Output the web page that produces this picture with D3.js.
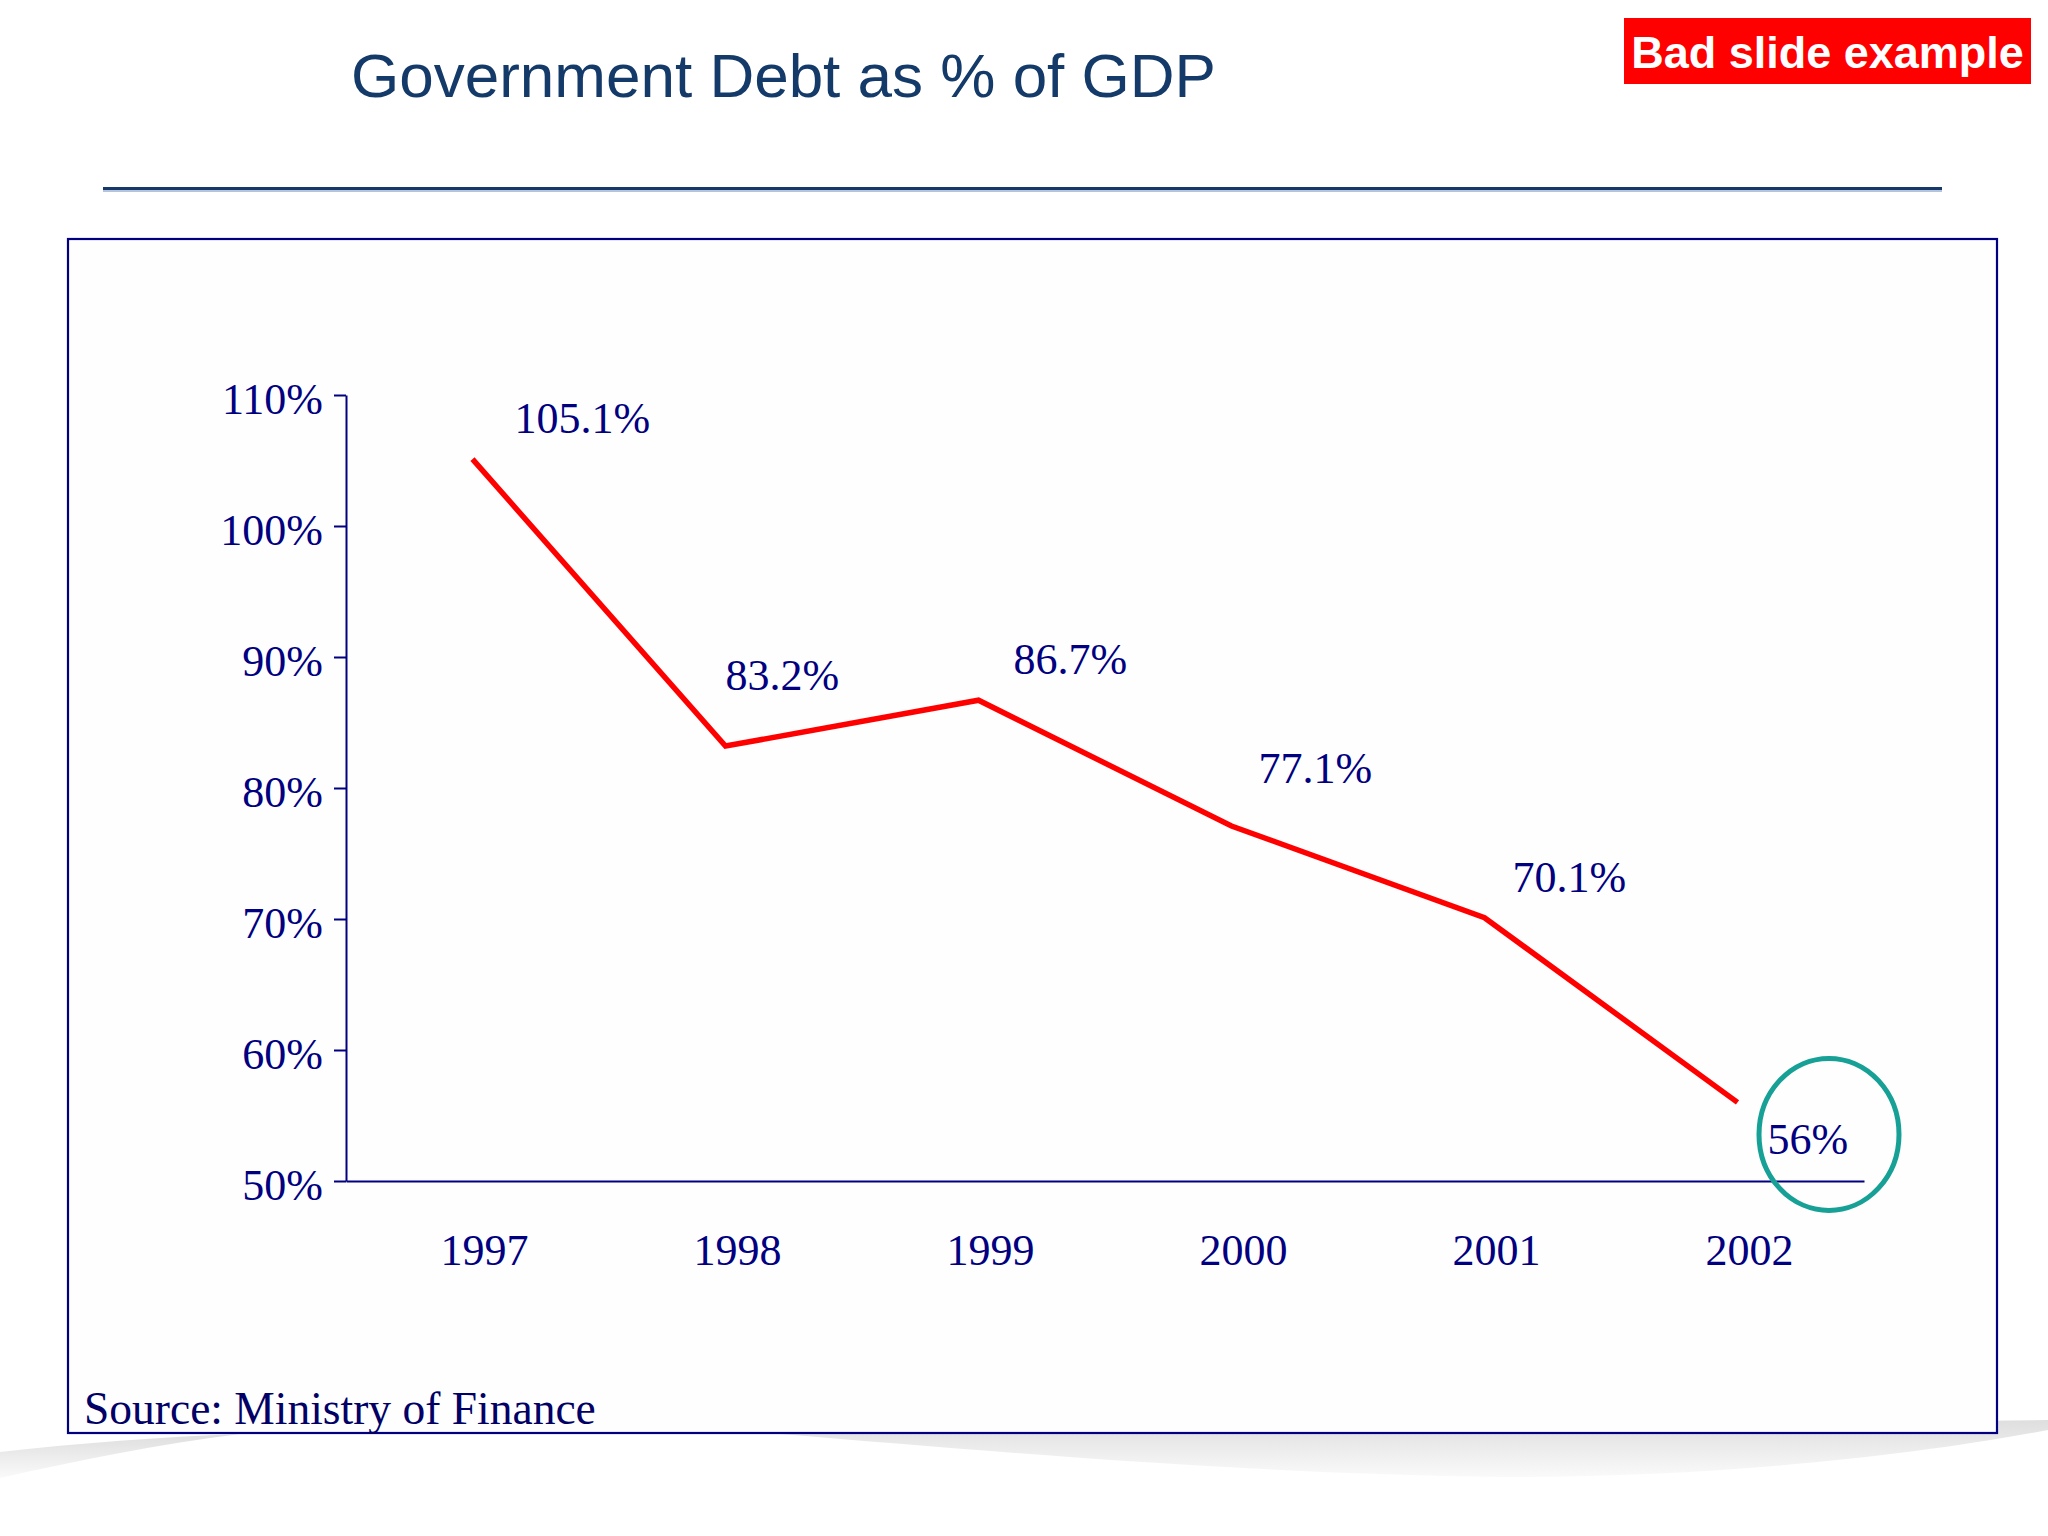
<!DOCTYPE html>
<html>
<head>
<meta charset="utf-8">
<script src="https://cdn.jsdelivr.net/npm/d3@7"></script>
<style>
  html, body { margin: 0; padding: 0; background: #ffffff; }
  svg { display: block; }
</style>
</head>
<body>
<script>
// ---- data ----
const years = ["1997", "1998", "1999", "2000", "2001", "2002"];
const debtPct = [105.1, 83.2, 86.7, 77.1, 70.1, 56];
const yTicks = [50, 60, 70, 80, 90, 100, 110];
const titleText = "Government Debt as % of GDP";
const badgeText = "Bad slide example";
const sourceText = "Source: Ministry of Finance";

// ---- layout (label nudges, in px, relative to each point) ----
const labelNudge = [[42, -26], [0, -56], [35, -26], [27, -43], [28, -26], [30, 52]];
const W = 2048, H = 1536;
const navy = "#000080";
const serif = "'Liberation Serif', 'Times New Roman', serif";
const sans = "'Liberation Sans', Arial, sans-serif";

const svg = d3.select("body").append("svg").attr("width", W).attr("height", H);

// gradient for bottom swoosh
const defs = svg.append("defs");
const g1 = defs.append("linearGradient").attr("id", "sw").attr("x1", 0).attr("y1", 0).attr("x2", 0).attr("y2", 1);
g1.append("stop").attr("offset", "0%").attr("stop-color", "#dedede");
g1.append("stop").attr("offset", "100%").attr("stop-color", "#fafafa");

// bottom decorative swoosh
svg.append("path")
  .attr("d", "M0,1452 C80,1443 160,1437 240,1434 C160,1444 80,1460 0,1478 Z")
  .attr("fill", "url(#sw)");
svg.append("path")
  .attr("d", "M780,1434 L2048,1420 L2048,1430 C1900,1458 1700,1478 1500,1477 C1250,1474 1000,1452 780,1434 Z")
  .attr("fill", "url(#sw)");

// title
svg.append("text")
  .attr("x", 351).attr("y", 97)
  .attr("font-family", sans).attr("font-size", 62)
  .attr("fill", "#133a68")
  .text(titleText);

// red badge
svg.append("rect").attr("x", 1624).attr("y", 18).attr("width", 407).attr("height", 66).attr("fill", "#ff0000");
svg.append("text")
  .attr("x", 1827.5).attr("y", 67.5)
  .attr("text-anchor", "middle")
  .attr("font-family", sans).attr("font-size", 45).attr("font-weight", "bold")
  .attr("fill", "#ffffff")
  .text(badgeText);

// title rule
svg.append("line").attr("x1", 103).attr("x2", 1942).attr("y1", 191).attr("y2", 191)
  .attr("stroke", "#b3c4dc").attr("stroke-width", 2);
svg.append("line").attr("x1", 103).attr("x2", 1942).attr("y1", 188.5).attr("y2", 188.5)
  .attr("stroke", "#17396a").attr("stroke-width", 3);

// frame
svg.append("rect").attr("x", 68).attr("y", 239).attr("width", 1929).attr("height", 1194)
  .attr("fill", "#fefefe").attr("stroke", navy).attr("stroke-width", 2.2);

// scales
const x = d3.scaleBand().domain(years).range([346, 1864]).padding(0);
const y = d3.scaleLinear().domain([50, 110]).range([1181, 395]);
const cx = d => x(d) + x.bandwidth() / 2;

// y axis
const yAxis = svg.append("g")
  .attr("transform", "translate(346,0)")
  .call(d3.axisLeft(y).tickValues(yTicks).tickSize(12).tickSizeOuter(0).tickPadding(11)
    .tickFormat(d => d + "%"));
yAxis.select(".domain").attr("stroke", navy).attr("stroke-width", 2);
yAxis.selectAll(".tick line").attr("stroke", navy).attr("stroke-width", 2);
yAxis.selectAll(".tick text")
  .attr("fill", navy).attr("font-family", serif).attr("font-size", 44)
  .attr("dy", "0.43em");

// x axis
const xAxis = svg.append("g")
  .attr("transform", "translate(0,1181)")
  .call(d3.axisBottom(x).tickSize(0).tickSizeOuter(0).tickPadding(0));
xAxis.select(".domain").attr("stroke", navy).attr("stroke-width", 2);
xAxis.selectAll(".tick text")
  .attr("fill", navy).attr("font-family", serif).attr("font-size", 44)
  .attr("x", 12).attr("y", 84).attr("dy", 0);

// line
const line = d3.line().x((d, i) => cx(years[i])).y(d => y(d));
svg.append("path")
  .datum(debtPct)
  .attr("d", line)
  .attr("fill", "none")
  .attr("stroke", "#ff0000")
  .attr("stroke-width", 5.5)
  .attr("stroke-linejoin", "miter");

// data labels
svg.append("g").selectAll("text")
  .data(debtPct)
  .join("text")
  .attr("x", (d, i) => cx(years[i]) + labelNudge[i][0])
  .attr("y", (d, i) => y(d) + labelNudge[i][1])
  .attr("font-family", serif).attr("font-size", 44)
  .attr("fill", navy)
  .text(d => d + "%");

// highlight ellipse around last label
const last = debtPct.length - 1;
svg.append("ellipse")
  .attr("cx", cx(years[last]) + 91.5)
  .attr("cy", y(debtPct[last]) + 32)
  .attr("rx", 70).attr("ry", 76)
  .attr("fill", "none")
  .attr("stroke", "#16a096")
  .attr("stroke-width", 5);

// source
svg.append("text")
  .attr("x", 84).attr("y", 1424)
  .attr("font-family", serif).attr("font-size", 45.5)
  .attr("fill", "#000066")
  .text(sourceText);
</script>
</body>
</html>
